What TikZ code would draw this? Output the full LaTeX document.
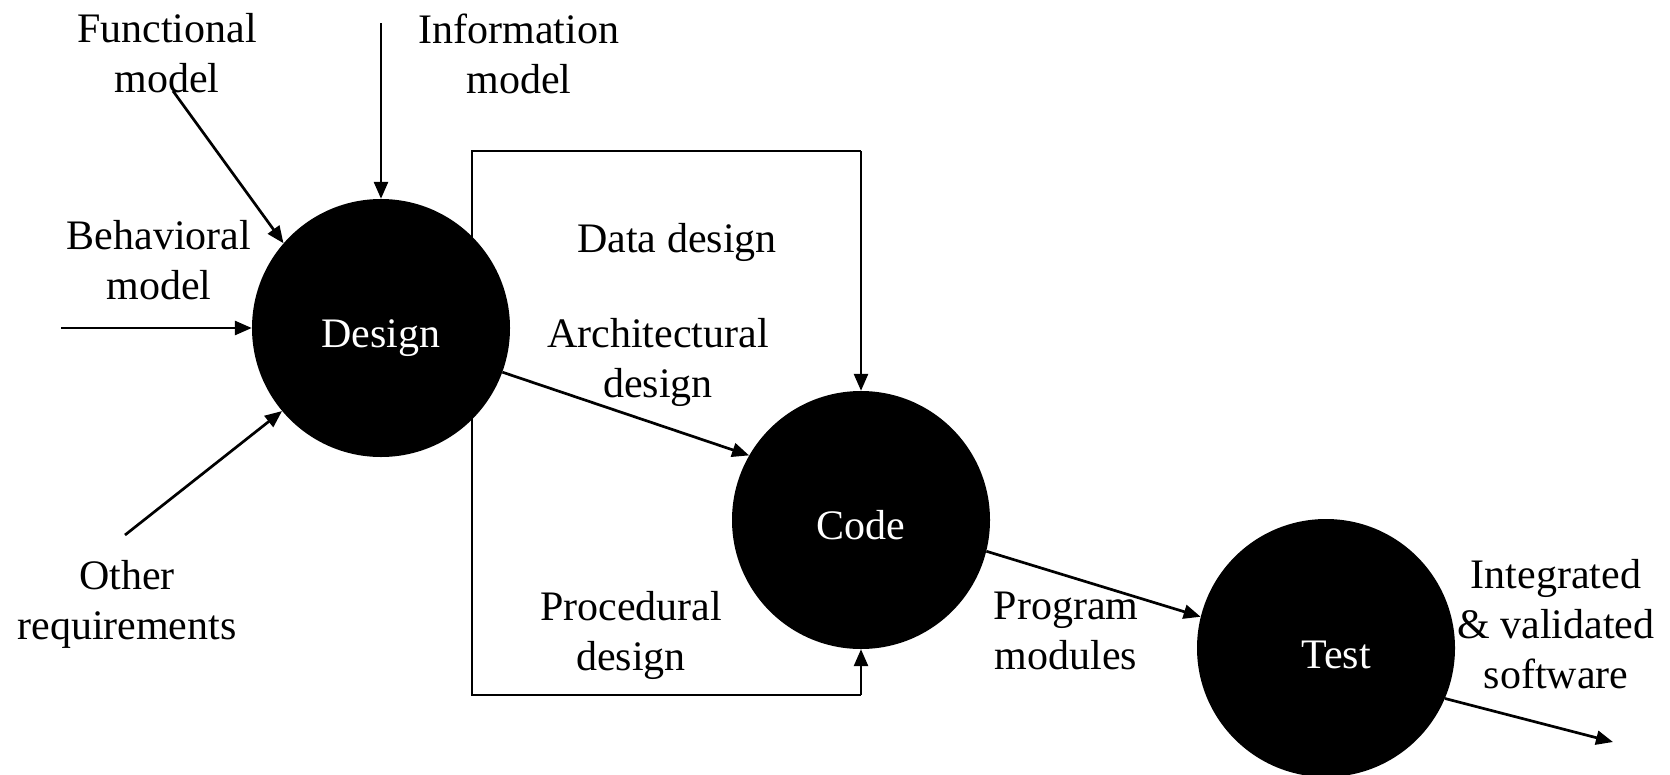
\documentclass[tikz,border=0pt]{standalone}
\usepackage{fontspec}
\setmainfont{Liberation Serif}
\usetikzlibrary{arrows.meta}
\begin{document}
\begin{tikzpicture}[x=1pt,y=-1pt,
  lbl/.style={font=\fontsize{42}{50}\selectfont, align=center, inner sep=0pt},
  proc/.style={circle, fill=black, minimum size=258pt, inner sep=0pt, text=white,
    font=\fontsize{42}{50}\selectfont, text height=29pt, text depth=9pt},
  conn/.style={line width=2.7pt, -{Triangle[length=17pt,width=14pt]}},
  plainline/.style={line width=2.7pt, line join=miter}]
\useasboundingbox (0,0) rectangle (1670,774);
% feedback box
\coordinate (tr) at (861,151);
\coordinate (tl) at (472,151);
\coordinate (bl) at (472,695);
\coordinate (br) at (861,695);
\draw[plainline] (tr) -- (tl) -- (bl) -- (br);
% processes
\node[proc] (design) at (381,328) {\raisebox{-9pt}{Design}};
\node[proc] (code) at (861,520) {\raisebox{-9pt}{Code}};
\node[proc] (test) at (1326,648) {\raisebox{-10pt}{\hspace*{20pt}Test}};
% box arrows
\draw[conn] (tr) -- (code.north);
\draw[conn] (br) -- (code.south);
% inputs to design
\coordinate (fsrc) at (173,91);
\coordinate (isrc) at (381,23);
\coordinate (bsrc) at (61,328);
\coordinate (osrc) at (125,535);
\draw[conn] (fsrc) -- (design.139);
\draw[conn] (isrc) -- (design.north);
\draw[conn] (bsrc) -- (design.west);
\draw[conn] (osrc) -- (design.220);
% flow
\draw[conn] (design.-20) -- (code.150);
\draw[conn] (code.-14) -- (test.166);
\coordinate (out) at (1613,742);
\draw[conn] (test.-23) -- (out);
% labels
\node[lbl] (lfun) at (167,53.5) {Functional\\model};
\node[lbl] (linf) at (519,53.5) {Information\\model};
\node[lbl] (lbeh) at (159,260.5) {Behavioral\\model};
\node[lbl] (loth) at (127,604) {Other\\requirements};
\node[lbl] (ldat) at (677,242) {Data design};
\node[lbl] (larc) at (658,362) {Architectural\\design};
\node[lbl] (lpro) at (631,635) {Procedural\\design};
\node[lbl] (lprg) at (1066,630.5) {Program\\modules};
\node[lbl] (lint) at (1556,624.5) {Integrated\\\& validated\\software};
\end{tikzpicture}
\end{document}
